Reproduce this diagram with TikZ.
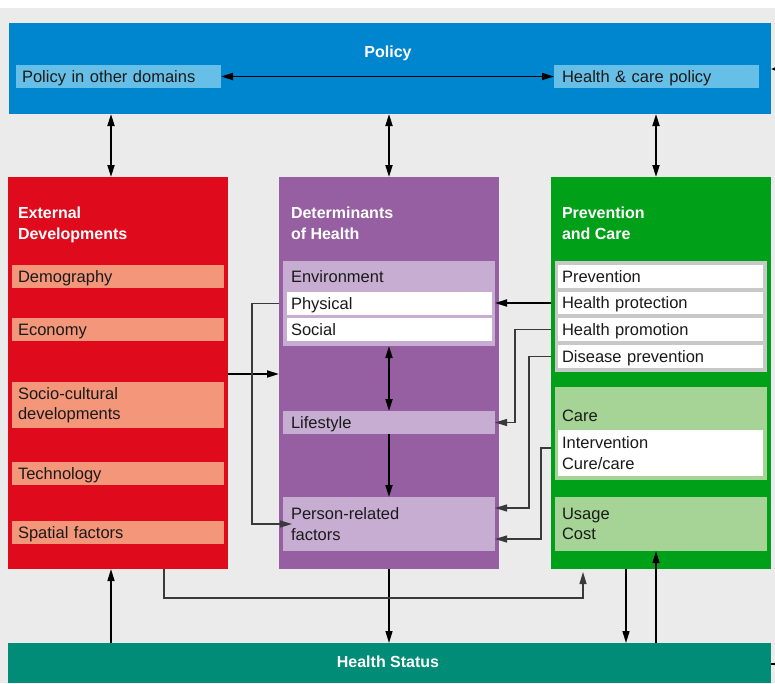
\documentclass[tikz,border=0pt]{standalone}
\usepackage{fontspec}
\setmainfont{Liberation Sans}
\usetikzlibrary{arrows.meta}
\definecolor{bggray}{HTML}{EBEBEB}
\definecolor{polblue}{HTML}{0085CF}
\definecolor{ltblue}{HTML}{66BFE6}
\definecolor{extred}{HTML}{DF0A1C}
\definecolor{salmon}{HTML}{F3967A}
\definecolor{detpurple}{HTML}{955FA1}
\definecolor{ltpurple}{HTML}{C8ADD3}
\definecolor{pcgreen}{HTML}{00A119}
\definecolor{ltgreen}{HTML}{A6D396}
\definecolor{grpgray}{HTML}{C8C8C8}
\definecolor{hsteal}{HTML}{008C76}
\definecolor{txt}{HTML}{1A1A1A}
\definecolor{thinln}{HTML}{3A3A3A}
\newcommand{\mylbl}{\fontsize{16.5}{20.5}\selectfont}
\newcommand{\myttl}{\fontsize{16}{21.5}\selectfont\bfseries}
\begin{document}
\begin{tikzpicture}[x=1pt,y=-1pt,
  box/.style={anchor=north west, inner sep=0pt, outer sep=0pt},
  lbl/.style={box, align=left, font=\mylbl, text=txt},
  oneline/.style={text height=11.6pt, text depth=0pt},
  ttl/.style={inner sep=0pt, outer sep=0pt, align=left, font=\myttl, text=white},
  arr/.style={line width=1.8pt, -{Triangle[length=12pt,width=7pt]}},
  dbl/.style={line width=1.8pt, {Triangle[length=12pt,width=7pt]}-{Triangle[length=12pt,width=7pt]}},
  marr/.style={line width=1.4pt, -{Triangle[length=12pt,width=7pt]}},
  tarr/.style={line width=1.1pt, draw=thinln, -{Triangle[length=12pt,width=7pt]}},
]
\useasboundingbox (0,0) rectangle (775,683);
\fill[white] (0,0) rectangle (775,8);
\fill[bggray] (0,8) rectangle (775,683);

% Policy
\node[box, fill=polblue, minimum width=762pt, minimum height=91pt] (policy) at (9,23) {};
\node[ttl, anchor=base] (policyt) at (388,57) {Policy};
\node[lbl, oneline, fill=ltblue, inner xsep=6pt, text width=193pt, minimum height=23pt] (pod) at (16,65) {Policy in other domains};
\node[lbl, oneline, fill=ltblue, inner xsep=8pt, text width=189pt, minimum height=23pt] (hcp) at (554,65) {Health \& care policy};

% External developments
\node[box, fill=extred, minimum width=220pt, minimum height=392pt] (ext) at (8,177) {};
\node[ttl, anchor=north west] (extt) at (18,206.5) {External\\Developments};
\node[lbl, oneline, fill=salmon, inner xsep=6pt, text width=200pt, minimum height=23pt] (demo) at (12,265) {Demography};
\node[lbl, oneline, fill=salmon, inner xsep=6pt, text width=200pt, minimum height=23pt] (econ) at (12,318) {Economy};
\node[lbl, fill=salmon, inner xsep=6pt, text width=200pt, minimum height=46pt] (socio) at (12,382) {Socio-cultural\\developments};
\node[lbl, oneline, fill=salmon, inner xsep=6pt, text width=200pt, minimum height=23pt] (tech) at (12,462) {Technology};
\node[lbl, oneline, fill=salmon, inner xsep=6pt, text width=200pt, minimum height=23pt] (spat) at (12,521) {Spatial factors};

% Determinants of health
\node[box, fill=detpurple, minimum width=220pt, minimum height=392pt] (det) at (279,177) {};
\node[ttl, anchor=north west] (dett) at (291,206.5) {Determinants\\of Health};
\node[box, fill=ltpurple, minimum width=212pt, minimum height=85pt] (env) at (283,261) {};
\node[lbl, anchor=west] (envt) at (291,276.5) {Environment};
\node[lbl, oneline, fill=white, inner xsep=4pt, text width=197pt, minimum height=23pt] (phys) at (287,292) {Physical};
\node[lbl, oneline, fill=white, inner xsep=4pt, text width=197pt, minimum height=23pt] (soc) at (287,318) {Social};
\node[lbl, oneline, fill=ltpurple, inner xsep=8pt, text width=196pt, minimum height=23pt] (life) at (283,411) {Lifestyle};
\node[lbl, fill=ltpurple, inner xsep=8pt, text width=196pt, minimum height=54pt] (pers) at (283,497) {Person-related\\factors};

% Prevention and care
\node[box, fill=pcgreen, minimum width=220pt, minimum height=392pt] (pc) at (551,177) {};
\node[ttl, anchor=north west] (pct) at (562,206.5) {Prevention\\and Care};
\node[box, fill=grpgray, minimum width=212pt, minimum height=111pt] (prevgrp) at (555,261) {};
\node[lbl, oneline, fill=white, inner xsep=4pt, text width=197pt, minimum height=23pt] (prev) at (558,265) {Prevention};
\node[lbl, oneline, fill=white, inner xsep=4pt, text width=197pt, minimum height=22pt] (hprot) at (558,292) {Health protection};
\node[lbl, oneline, fill=white, inner xsep=4pt, text width=197pt, minimum height=23pt] (hprom) at (558,318) {Health promotion};
\node[lbl, oneline, fill=white, inner xsep=4pt, text width=197pt, minimum height=23pt] (dprev) at (558,345) {Disease prevention};
\node[box, fill=ltgreen, minimum width=212pt, minimum height=93pt] (care) at (555,387) {};
\node[lbl, anchor=west] (caret) at (562,416) {Care};
\node[lbl, fill=white, inner xsep=4pt, text width=197pt, minimum height=46pt] (interv) at (558,430) {Intervention\\Cure/care};
\node[lbl, fill=ltgreen, inner xsep=7pt, text width=198pt, minimum height=54pt] (usage) at (555,497) {Usage\\Cost};

% Health status
\node[box, fill=hsteal, minimum width=763pt, minimum height=40pt] (hs) at (8,643) {};
\node[ttl, anchor=base] (hst) at (388,667) {Health Status};

% helper coordinates
\coordinate (xa) at (111,0);
\coordinate (xb) at (656,0);
\coordinate (xc) at (252,0);
\coordinate (xd) at (515,0);
\coordinate (xe) at (529,0);
\coordinate (xf) at (541,0);
\coordinate (xg) at (626,0);
\coordinate (xh) at (164,0);
\coordinate (xi) at (583,0);
\coordinate (ya) at (0,374);
\coordinate (ye) at (0,508);
\coordinate (yf) at (0,539);
\coordinate (yg) at (0,448);
\coordinate (yh) at (0,598);
\coordinate (yi) at (0,572);
\coordinate (rs1) at (781,69);
\coordinate (rs2) at (781,664);

% connectors
\draw[dbl] (pod.east) -- (hcp.west);
\draw[dbl] (policy.south -| xa) -- (ext.north -| xa);
\draw[dbl] (policy.south -| det.north) -- (det.north);
\draw[dbl] (policy.south -| xb) -- (pc.north -| xb);
\draw[arr] (ext.east |- ya) -- (det.west |- ya);
\draw[dbl] (env.south -| det.north) -- (life.north -| det.north);
\draw[arr] (life.south -| det.north) -- (pers.north -| det.north);
\draw[arr] (pc.west |- hprot) -- (env.east |- hprot);
\draw[tarr] (det.west |- phys) -| (xc |- pers) -- ([xshift=9pt]pers.west);
\draw[tarr] (pc.west |- hprom) -| (xd |- life) -- (life.east);
\draw[tarr] (pc.west |- dprev) -| (xe |- ye) -- (pers.east |- ye);
\draw[tarr] (pc.west |- yg) -| (xf |- yf) -- (pers.east |- yf);
\draw[marr] (hs.north -| xa) -- (ext.south -| xa);
\draw[marr] (det.south) -- (hs.north -| det.south);
\draw[marr] (pc.south -| xg) -- (hs.north -| xg);
\draw[marr] (hs.north -| xb) -- (usage.south -| xb);
\draw[tarr] (ext.south -| xh) |- (xi |- yh) -- (xi |- yi);
\draw[line width=1.4pt, -{Triangle[length=8pt,width=6pt]}] (rs1) -- (policy.east |- rs1);
\draw[line width=1.1pt] (hs.east |- rs2) -- (rs2);
\end{tikzpicture}
\end{document}
